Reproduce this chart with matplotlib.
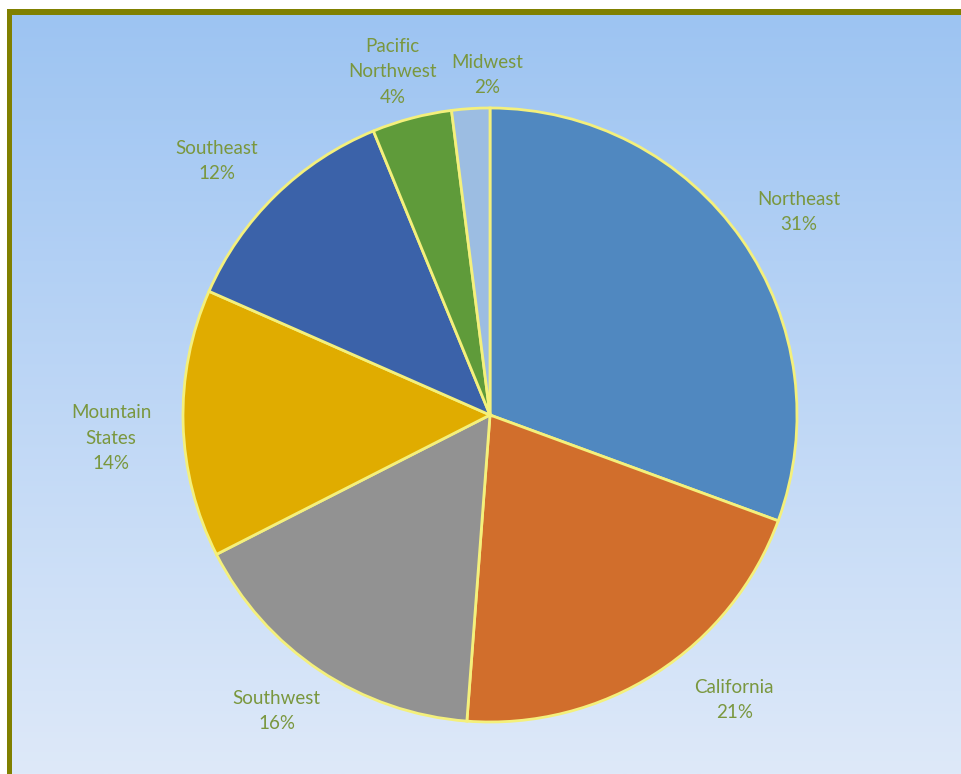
import numpy as np
import matplotlib.pyplot as plt
from matplotlib.patches import Rectangle

# data
regions = ["Northeast", "California", "Southwest", "Mountain\nStates",
           "Southeast", "Pacific\nNorthwest", "Midwest"]
shares = [30.6, 20.6, 16.3, 14.1, 12.2, 4.2, 2.0]
colors = ["#5088c0", "#d16e2c", "#929292", "#e0ac00",
          "#3b62a9", "#5f9b3a", "#9cbde2"]

# label placement (angle in degrees, distance in radii) - Excel "best fit"
label_angle = [33.3, -49.4, -125.8, 183.5, 137.1, 105.9, 90.5]
label_dist = [1.205, 1.222, 1.188, 1.237, 1.215, 1.162, 1.108]

W, H = 961, 774
fig = plt.figure(figsize=(W / 100, H / 100), dpi=100)

# olive frame (left and top edges)
fig.patches.append(Rectangle((7 / W, 0), 1, (H - 9) / H, transform=fig.transFigure,
                             facecolor="#808000", edgecolor="none", zorder=-10))

# gradient background
bg = fig.add_axes([12 / W, 0, (W - 12) / W, (H - 15) / H])
top = np.array([157, 196, 242]) / 255
bot = np.array([222, 233, 249]) / 255
t = np.linspace(0, 1, 256)[:, None]
grad = top * (1 - t) + bot * t
bg.imshow(grad[:, None, :], aspect="auto", extent=[0, 1, 0, 1])
bg.set_axis_off()

# pie axes: centre (490, 415), radius 307 px
cx, cy, r = 490, 415, 307
ax = fig.add_axes([(cx - r) / W, (H - cy - r) / H, 2 * r / W, 2 * r / H])
ax.set_facecolor("none")
total = sum(shares)
labels = [f"{n}\n{round(v / total * 100)}%" for n, v in zip(regions, shares)]
wedges, texts = ax.pie(shares, labels=labels, colors=colors, startangle=90,
                       counterclock=False, labeldistance=1.2,
                       wedgeprops=dict(edgecolor="#f4f07c", linewidth=2),
                       textprops=dict(color="#7a973e", fontsize=13.5, family="Lato",
                                      ha="center", va="center", linespacing=1.59))
for w in wedges:
    w.set_clip_on(False)
for tx, a, d in zip(texts, label_angle, label_dist):
    tx.set_ha("center")
    tx.set_multialignment("center")
    a = np.deg2rad(a)
    tx.set_position((d * np.cos(a), d * np.sin(a)))

ax.set_xlim(-1, 1)
ax.set_ylim(-1, 1)
ax.set_axis_off()

fig.savefig("out.png", dpi=100)
